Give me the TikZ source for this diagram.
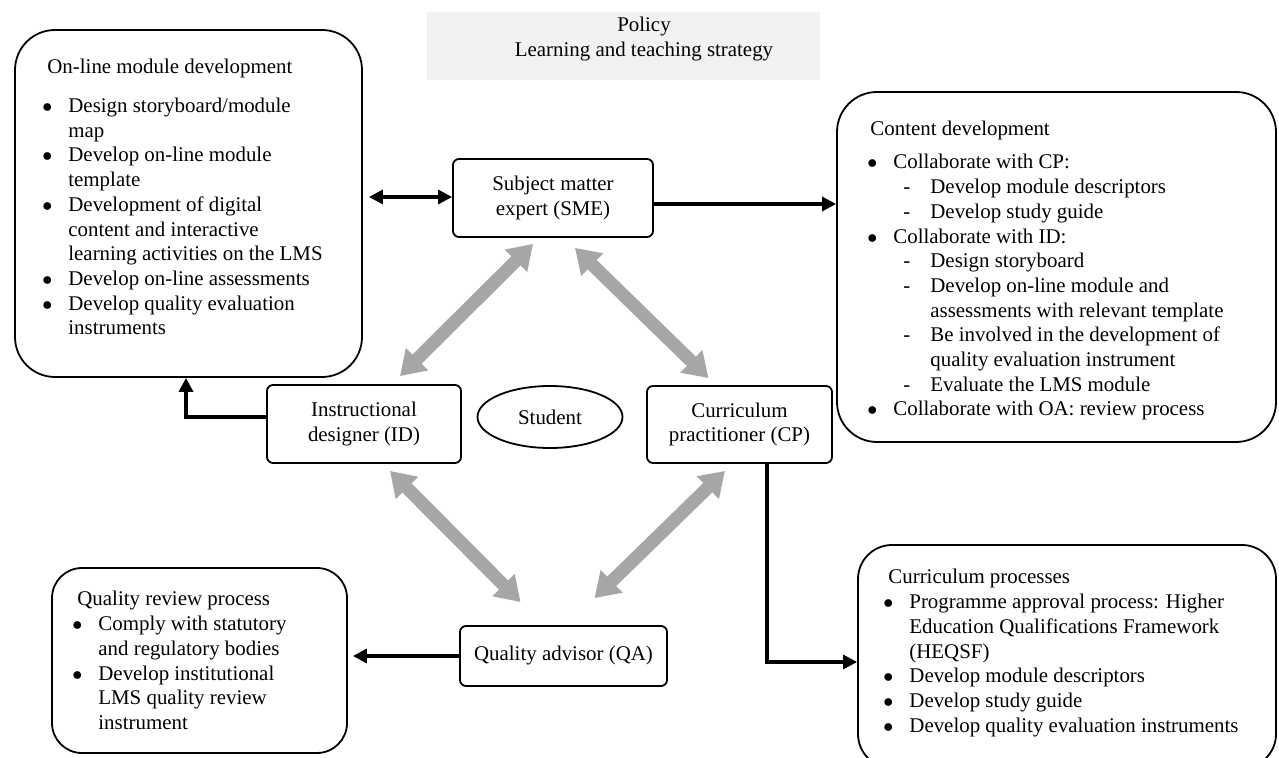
\documentclass[tikz,border=0pt]{standalone}
\usepackage{fontspec}
\setmainfont{Liberation Serif}
\usetikzlibrary{arrows.meta, positioning, shapes.geometric, calc}

\newcommand{\bul}{\makebox[13pt][l]{$\bullet$}}
\newcommand{\bcont}{\hspace*{13pt}}
\newcommand{\dsh}{\hspace*{18pt}\makebox[13.5pt][l]{-}}
\newcommand{\dcont}{\hspace*{31.5pt}}

\begin{document}
\begin{tikzpicture}[x=0.5pt, y=-0.5pt,
  every node/.style={font=\fontsize{10.45pt}{12.35pt}\selectfont},
  role/.style={draw, line width=0.9pt, rounded corners=3pt, inner sep=0pt, align=center},
  task/.style={draw, line width=0.9pt, inner sep=0pt},
  tasktext/.style={anchor=north west, inner sep=0pt, align=left},
  link/.style={line width=1.6pt, -{Triangle[width=7pt,length=7pt]}},
  duty/.style={draw=black!35, line width=6.5pt, {Triangle[width=15pt,length=12pt]}-{Triangle[width=15pt,length=12pt]}}]
  \useasboundingbox (0,0) rectangle (1279,758);

  % policy banner
  \node[fill=black!5, minimum width=196.5pt, minimum height=34pt, inner sep=0pt] (policy) at (623.5,46) {};
  \node[align=center] (policy text) at (644,39) {Policy\\Learning and teaching strategy};

  % task boxes
  \node[task, rounded corners=20pt, minimum width=173.5pt, minimum height=173.5pt] (omd) at (188.5,203.5) {};
  \node[tasktext] (omd text) at (42,59) {\hspace*{2.5pt}On-line module development\\[7pt]
    \bul Design storyboard/module\\
    \bcont map\\
    \bul Develop on-line module\\
    \bcont template\\
    \bul Development of digital\\
    \bcont content and interactive\\
    \bcont learning activities on the LMS\\
    \bul Develop on-line assessments\\
    \bul Develop quality evaluation\\
    \bcont instruments};

  \node[task, rounded corners=20pt, minimum width=219.5pt, minimum height=175pt] (cd) at (1056.5,267) {};
  \node[tasktext] (cd text) at (867,121) {\hspace*{1.5pt}Content development\\[4.2pt]
    \bul Collaborate with CP:\\
    \dsh Develop module descriptors\\
    \dsh Develop study guide\\
    \bul Collaborate with ID:\\
    \dsh Design storyboard\\
    \dsh Develop on-line module and\\
    \dcont assessments with relevant template\\
    \dsh Be involved in the development of\\
    \dcont quality evaluation instrument\\
    \dsh Evaluate the LMS module\\
    \bul Collaborate with OA: review process};

  \node[task, rounded corners=17pt, minimum width=209pt, minimum height=111.5pt] (curp) at (1067,656.5) {};
  \node[tasktext] (curp text) at (883,569) {\hspace*{2.5pt}Curriculum processes\\
    \bul Programme approval process: Higher\\
    \bcont Education Qualifications Framework\\
    \bcont (HEQSF)\\
    \bul Develop module descriptors\\
    \bul Develop study guide\\
    \bul Develop quality evaluation instruments};

  \node[task, rounded corners=15pt, minimum width=147.5pt, minimum height=92.5pt] (qrp) at (199.5,660.5) {};
  \node[tasktext] (qrp text) at (72,591) {\hspace*{2.5pt}Quality review process\\
    \bul Comply with statutory\\
    \bcont and regulatory bodies\\
    \bul Develop institutional\\
    \bcont LMS quality review\\
    \bcont instrument};

  % roles
  \node[role, minimum width=100pt, minimum height=39pt] (sme) at (553,198) {Subject matter\\expert (SME)};
  \node[role, minimum width=97pt, minimum height=39pt] (id) at (364,424) {Instructional\\designer (ID)};
  \node[role, minimum width=92.5pt, minimum height=38.5pt] (cp) at (739.5,424.5) {Curriculum\\practitioner (CP)};
  \node[role, minimum width=103.5pt, minimum height=30pt] (qa) at (563.5,656) {Quality advisor (QA)};
  \node[draw, ellipse, line width=0.9pt, minimum width=72.5pt, minimum height=31pt, inner sep=0pt] (student) at (550,417) {Student};

  % grey collaboration arrows
  \draw[duty] ($(sme.south)+(-20,6)$) -- ($(id.north)+(36,-8)$);
  \draw[duty] ($(sme.south)+(22,10)$) -- ($(cp.north)+(-31,-7)$);
  \draw[duty] ($(id.south)+(26,7)$) -- ($(qa.north)+(-43,-23)$);
  \draw[duty] ($(cp.south)+(-14.5,7)$) -- ($(qa.north)+(31,-27)$);

  % black task arrows
  \draw[link, {Triangle[width=7pt,length=7pt]}-{Triangle[width=7pt,length=7pt]}] ($(sme.west)+(0,-1)$) -- ($(sme.west -| omd.east)+(6,-1)$);
  \draw[link] ($(sme.east)+(0,6)$) -- ($(sme.east -| cd.west)+(0,6)$);
  \draw[link] ($(id.west)+(0,-7)$) -| ($(omd.south)+(-2.5,0)$);
  \draw[link] ($(cp.south)+(27.5,0)$) |- ($(curp.west)+(0,5.5)$);
  \draw[link] (qa.west) -- ($(qa.west -| qrp.east)+(5,0)$);
\end{tikzpicture}
\end{document}
